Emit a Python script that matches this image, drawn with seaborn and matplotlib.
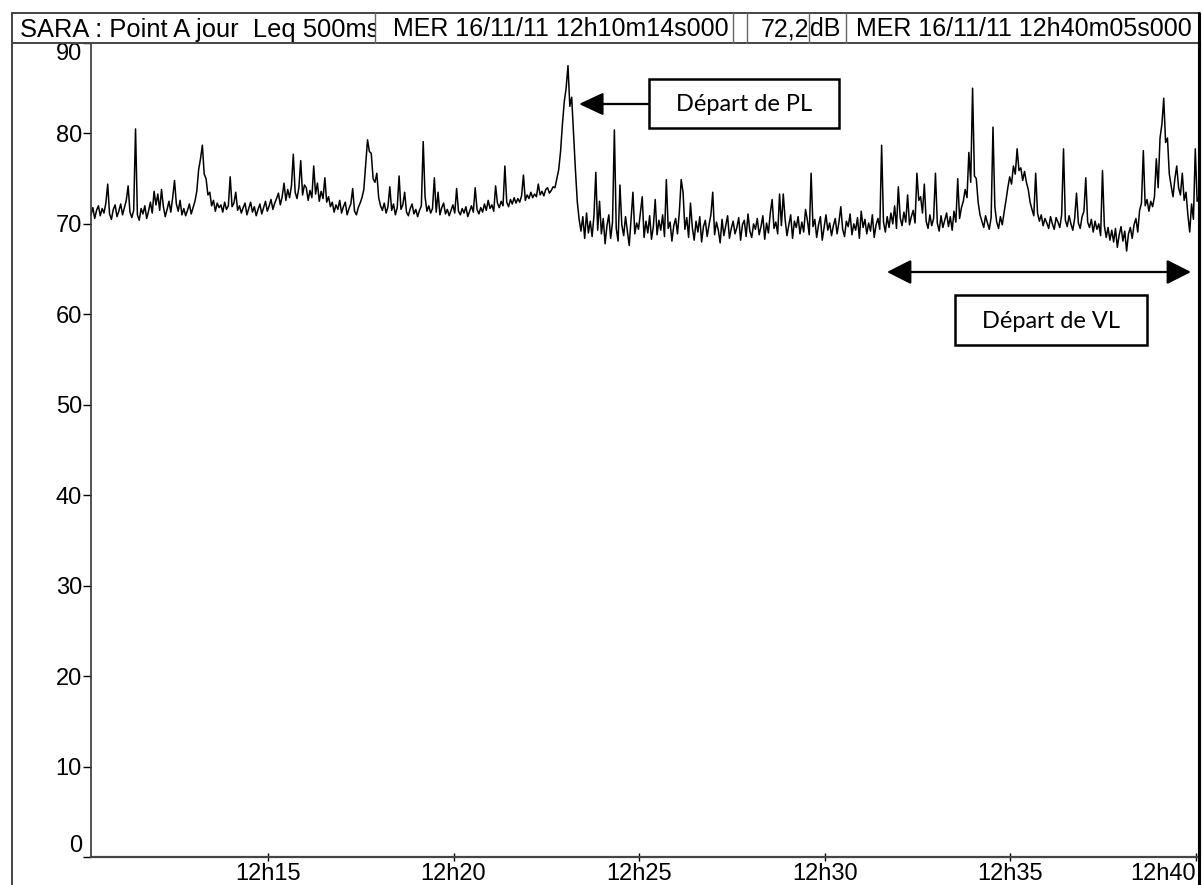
import numpy as np
import pandas as pd
import matplotlib
matplotlib.use('Agg')
import matplotlib.pyplot as plt
import matplotlib.dates as mdates
import seaborn as sns
from matplotlib.patches import Rectangle
from matplotlib.lines import Line2D
from matplotlib.transforms import Bbox, TransformedBbox

# Leq levels (dB), one value every 3 s from 12h10m14s
block_1015 = [71.0, 71.8, 70.6, 71.5, 72.0, 70.9, 71.7, 71.2, 72.3, 74.4,
              71.1, 70.5, 71.6, 72.1, 70.8, 71.4, 72.2, 71.0, 71.8, 72.6,
              74.2, 71.3, 70.7, 71.5, 80.5, 71.0, 70.4, 71.7, 71.1, 72.0,
              70.6, 71.4, 72.4, 71.2, 73.6, 72.1, 73.3, 71.5, 73.8, 71.9,
              70.8, 71.6, 72.5, 71.3, 72.9, 74.8, 72.2, 71.4, 72.6, 71.0,
              71.7, 70.9, 71.5, 72.2, 71.1, 71.8, 72.5, 73.6, 76.0, 77.2,
              78.7, 75.5, 75.0, 73.2, 73.5, 72.0, 72.6, 71.4, 72.3, 71.8,
              72.1, 71.3, 72.4, 71.6, 72.0, 75.2, 71.9, 72.3, 73.5, 71.5,
              72.0, 71.2, 71.8, 72.3, 71.0, 71.7, 72.4, 71.3, 71.9, 70.9,
              71.6, 72.2, 71.1, 71.8, 72.5, 71.4, 72.0, 72.7, 71.6, 72.3]
block_1020 = [72.8, 73.4, 72.1, 73.0, 74.5, 72.6, 73.8, 72.9, 74.2, 77.7,
              73.5, 72.8, 74.0, 77.0, 73.2, 74.3, 74.0, 72.6, 73.7, 72.9,
              76.4, 73.3, 74.5, 72.5, 73.6, 72.8, 75.1, 72.4, 73.0, 71.9,
              72.4, 71.3, 72.1, 71.6, 72.6, 71.2, 71.9, 72.4, 71.0, 71.7,
              72.2, 73.9, 71.4, 71.0, 71.8, 72.3, 72.9, 73.8, 76.5, 79.3,
              78.0, 77.8, 75.0, 74.6, 75.6, 72.9, 72.0, 71.5, 72.3, 71.2,
              71.9, 74.1, 71.5, 72.2, 71.0, 71.8, 75.3, 71.6, 72.1, 73.5,
              71.3, 70.9, 71.7, 72.2, 71.1, 71.6, 70.8, 71.5, 72.0, 79.1,
              73.0, 71.4, 72.0, 71.2, 71.7, 75.1, 71.3, 73.5, 71.0, 71.8,
              72.3, 71.1, 71.6, 70.9, 71.5, 72.1, 71.2, 73.9, 71.4, 71.0]
block_1025 = [71.7, 71.2, 71.9, 70.8, 71.4, 72.0, 71.3, 74.0, 71.6, 71.1,
              71.8, 71.3, 72.2, 71.5, 72.6, 71.7, 72.1, 71.4, 74.2, 72.3,
              71.8, 72.5, 72.0, 76.4, 72.4, 71.9, 72.7, 72.2, 72.9, 72.3,
              72.8, 72.4, 73.1, 75.4, 72.6, 73.2, 72.8, 73.5, 72.9, 73.3,
              73.0, 74.4, 73.2, 73.6, 73.1, 73.8, 74.0, 73.4, 73.7, 74.1,
              74.0, 75.0, 76.0, 78.0, 81.0, 83.5, 85.0, 87.5, 83.0, 84.0,
              80.0, 76.0, 72.5, 70.5, 69.2, 70.8, 68.4, 71.2, 69.0, 70.3,
              68.6, 70.9, 75.7, 69.3, 72.5, 68.9, 70.6, 67.8, 69.8, 71.0,
              68.4, 70.2, 80.4, 69.5, 68.1, 74.3, 69.9, 68.7, 70.8, 69.2,
              67.6, 70.5, 73.5, 68.9, 70.1, 69.4, 71.2, 73.0, 68.5, 70.3]
block_1030 = [69.0, 70.9, 68.3, 69.7, 72.7, 68.8, 70.4, 69.3, 71.0, 68.6,
              74.9, 69.5, 70.2, 68.1, 69.8, 70.6, 68.9, 71.3, 74.9, 73.5,
              69.4, 70.7, 68.5, 72.3, 69.6, 68.2, 70.3, 69.1, 70.8, 68.0,
              69.7, 70.4, 68.6, 69.9, 71.0, 73.5, 68.8, 70.2, 69.3, 67.9,
              70.5, 68.7, 69.8, 70.9, 68.4, 69.5, 70.3, 68.9, 69.6, 70.7,
              68.2, 69.9, 70.4, 68.6, 71.1, 69.2, 68.5, 70.0, 69.4, 70.6,
              68.8, 69.7, 70.9, 68.3, 70.1, 69.0, 71.2, 72.7, 69.5, 70.2,
              68.9, 73.3, 69.8, 73.3, 70.5, 68.7, 69.9, 71.0, 68.4, 70.3,
              69.6, 70.8, 68.9, 70.2, 69.1, 71.6, 70.4, 68.8, 75.6, 69.7,
              70.5, 68.5, 69.9, 70.8, 68.2, 69.6, 71.0, 69.3, 70.1, 68.7]
block_1035 = [69.8, 70.6, 68.9, 70.2, 71.9, 69.4, 68.6, 70.3, 69.7, 71.1,
              68.8, 70.0, 69.3, 70.7, 68.4, 71.4, 69.6, 70.5, 68.9, 70.1,
              69.2, 71.0, 68.5, 69.9, 70.6, 69.4, 78.7, 70.2, 69.1, 70.8,
              69.6, 71.2, 70.0, 72.0, 69.5, 74.1, 70.7, 69.8, 71.3, 70.2,
              73.2, 69.9, 70.8, 71.5, 70.1, 75.6, 72.6, 73.0, 71.2, 74.4,
              70.3, 69.5, 71.0, 69.8, 70.6, 75.6, 70.1, 69.2, 70.9, 69.6,
              70.4, 71.2, 69.7, 70.8, 69.3, 71.4, 70.2, 75.0, 70.6, 71.8,
              72.5, 73.8, 72.9, 77.9, 74.6, 85.0, 75.3, 75.0, 72.4, 71.0,
              70.3, 69.6, 70.9, 70.1, 69.4, 70.7, 80.7, 71.9, 70.2, 69.5,
              70.8, 69.9, 71.3, 72.6, 74.0, 75.2, 74.4, 76.4, 75.5, 78.3]
block_1040 = [75.9, 76.2, 74.8, 75.8, 74.6, 73.8, 72.4, 71.6, 70.9, 75.6,
              71.2, 70.3, 71.0, 69.8, 70.6, 70.1, 69.5, 70.8, 70.0, 69.4,
              70.7, 70.2, 69.6, 71.0, 78.3, 70.4, 69.7, 70.9, 70.0, 69.3,
              70.6, 73.4, 70.1, 69.5, 70.8, 71.4, 75.1, 70.2, 69.6, 70.5,
              69.1, 70.3, 69.4, 70.0, 68.7, 75.9, 69.8, 68.5, 69.6, 68.2,
              69.3, 68.0, 69.5, 67.4, 68.8, 69.7, 68.1, 69.2, 67.0, 68.9,
              69.6, 68.4, 69.9, 70.6, 69.1, 71.5, 72.3, 78.1, 72.0, 72.7,
              71.4, 72.5, 71.9, 73.0, 77.2, 74.0, 79.5, 81.0, 83.9, 79.0,
              79.5, 75.5, 74.2, 73.0, 75.0, 76.4, 74.0, 73.2, 75.6, 72.6,
              73.5, 71.0, 69.1, 72.2, 70.5, 78.3, 72.5, 73.0]

start = pd.Timestamp('2011-11-16 12:10:14')
end = pd.Timestamp('2011-11-16 12:40:05')
step_s = 3
tick_times = ['12:15', '12:20', '12:25', '12:30', '12:35', '12:40']

header_cells = ['SARA : Point A jour  Leq 500ms', 'MER 16/11/11 12h10m14s000',
                '72,2', 'dB', 'MER 16/11/11 12h40m05s000']
label_pl = 'Départ de PL'
label_vl = 'Départ de VL'

levels = block_1015 + block_1020 + block_1025 + block_1030 + block_1035 + block_1040
df = pd.DataFrame({'level': levels})
df['time'] = start + pd.to_timedelta(np.arange(len(df)) * step_s, unit='s')

W, H = 1202, 885
sns.set_theme(style='white')
plt.rcParams['font.family'] = ['Liberation Sans', 'DejaVu Sans']

fig = plt.figure(figsize=(W / 100, H / 100), dpi=100)
ax = fig.add_axes([91 / W, 1 - 857 / H, (1199 - 91) / W, (857 - 43) / H])

sns.lineplot(data=df, x='time', y='level', color='black', linewidth=1.1,
             estimator=None, ax=ax)

ax.set_xlim(start, end)
ax.set_ylim(0, 90)
ax.set_xlabel('')
ax.set_ylabel('')
ax.set_yticks(range(0, 91, 10))
ax.set_xticks([pd.Timestamp('2011-11-16 ' + t) for t in tick_times])
ax.xaxis.set_major_formatter(mdates.DateFormatter('%Hh%M'))
ax.tick_params(axis='y', direction='out', length=6, width=1, pad=0.5,
               labelsize=17, colors='black', left=True)
ax.tick_params(axis='x', direction='inout', length=6, width=1, pad=1.5,
               labelsize=17, colors='black', bottom=True)
ax.yaxis.get_major_ticks()[0].label1.set_va('bottom')
ax.yaxis.get_major_ticks()[-1].label1.set_va('top')
ax.xaxis.get_major_ticks()[-1].label1.set_ha('right')

ax.spines['top'].set_visible(False)
ax.spines['left'].set_color('#333333')
ax.spines['left'].set_linewidth(1.2)
ax.spines['bottom'].set_color('#444444')
ax.spines['bottom'].set_linewidth(1.6)
ax.spines['right'].set_color('black')
ax.spines['right'].set_linewidth(2.2)


def fx(x):
    return x / W


def fy(y):
    return 1 - y / H


def fline(x0, y0, x1, y1, lw=1.4, color='#444444'):
    fig.add_artist(Line2D([fx(x0), fx(x1)], [fy(y0), fy(y1)],
                          transform=fig.transFigure, color=color, lw=lw))


# header strip
fline(12, 13, 1199, 13)
fline(12, 43, 1199, 43)
fline(12, 13, 12, 885)
fline(1199, 13, 1199, 885, lw=2.2, color='black')
for xd in [375, 733, 747, 809, 846]:
    fline(xd, 13, xd, 43, lw=1.0, color='#666666')

cells = [(20, 375), (393, 733), (761, 809), (810, 846), (856, 1198)]
sizes = [18.4, 18, 18, 18, 18]
for (x0, x1), txt, fs in zip(cells, header_cells, sizes):
    t = fig.text(fx(x0), fy(36.5), txt, fontsize=fs, ha='left', va='baseline',
                 color='black')
    t.set_clip_box(TransformedBbox(Bbox([[fx(x0) - 0.01, fy(43)], [fx(x1), fy(13)]]),
                                   fig.transFigure))
    t.set_clip_on(True)

# annotation boxes
for (x0, y0, x1, y1), txt in [((649, 79, 839, 128), label_pl),
                              ((955, 295, 1147, 345), label_vl)]:
    fig.add_artist(Rectangle((fx(x0), fy(y1)), fx(x1) - fx(x0), fy(y0) - fy(y1),
                             transform=fig.transFigure, fill=False,
                             edgecolor='black', lw=1.8))
    fig.text(fx((x0 + x1) / 2), fy((y0 + y1) / 2 + 1), txt, fontsize=17,
             family=['Lato', 'DejaVu Sans'], ha='center', va='center', color='black')

ax.annotate('', xy=(579, H - 104), xycoords='figure pixels',
            xytext=(649, H - 104), textcoords='figure pixels',
            arrowprops=dict(arrowstyle='-|>,head_length=0.75,head_width=0.35',
                            mutation_scale=20, color='black', lw=1.6,
                            shrinkA=0, shrinkB=0))
ax.annotate('', xy=(887, H - 272), xycoords='figure pixels',
            xytext=(1191, H - 272), textcoords='figure pixels',
            arrowprops=dict(arrowstyle='<|-|>,head_length=0.75,head_width=0.38',
                            mutation_scale=20, color='black', lw=1.6,
                            shrinkA=0, shrinkB=0))

fig.savefig('out.png', dpi=100)
